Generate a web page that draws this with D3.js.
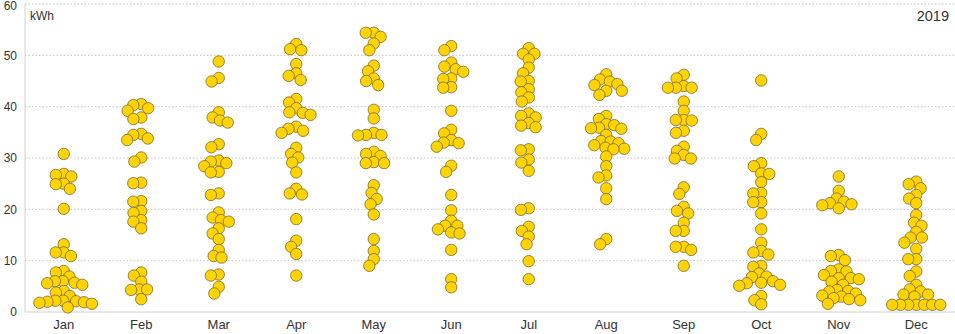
<!DOCTYPE html>
<html>
<head>
<meta charset="utf-8">
<script src="https://cdn.jsdelivr.net/npm/d3@7"></script>
<style>
  html, body { margin: 0; padding: 0; background: #fff; }
  svg { display: block; font-family: "Liberation Sans", Arial, sans-serif; }
</style>
</head>
<body>
<svg id="chart" width="955" height="334"></svg>
<script>
// Daily energy yield (kWh) for each month of 2019
const months = ["Jan","Feb","Mar","Apr","May","Jun","Jul","Aug","Sep","Oct","Nov","Dec"];
const yTicks = [0, 10, 20, 30, 40, 50, 60];
const unitLabel = "kWh";
const yearLabel = "2019";

const jan = [30.8, 26.7, 26.4, 26.9, 24.9, 24.0, 25.0, 20.1, 13.2, 11.6, 10.9, 11.6, 7.7, 8.0, 6.9, 6.0, 5.7, 5.3, 5.6, 6.0, 4.1, 3.8, 3.1, 2.2, 1.9, 1.6, 0.9, 1.8, 2.0, 2.1, 2.2];
const feb = [39.7, 39.2, 40.3, 40.5, 37.9, 37.6, 33.8, 33.5, 34.5, 34.7, 30.1, 29.3, 25.2, 25.1, 21.6, 21.5, 19.7, 19.3, 17.6, 17.9, 16.3, 7.1, 7.7, 5.9, 4.3, 4.4, 4.4, 2.5];
const mar = [48.8, 45.6, 44.9, 38.9, 37.3, 36.9, 37.9, 32.7, 32.1, 29.3, 29.0, 27.3, 27.2, 28.4, 29.5, 23.1, 22.8, 19.4, 17.6, 17.9, 18.4, 16.3, 15.3, 14.2, 12.1, 10.9, 10.6, 7.3, 7.1, 4.9, 3.6];
const apr = [51.2, 51.0, 52.2, 48.3, 46.0, 45.2, 46.5, 41.5, 40.8, 39.7, 38.9, 38.4, 38.8, 36.1, 35.3, 34.9, 35.7, 32.0, 30.8, 30.1, 29.1, 27.2, 23.1, 22.9, 24.0, 18.1, 13.9, 12.7, 11.3, 7.1];
const may = [54.4, 53.6, 54.4, 52.3, 51.0, 48.0, 46.9, 45.0, 44.2, 45.5, 39.4, 37.7, 34.9, 34.5, 34.4, 34.5, 30.8, 30.4, 31.2, 29.0, 29.0, 29.2, 24.7, 23.2, 22.0, 21.0, 19.0, 14.2, 11.9, 10.3, 9.0];
const jun = [51.8, 51.0, 48.6, 47.8, 46.8, 47.3, 45.5, 45.4, 43.8, 43.7, 39.2, 35.5, 34.8, 33.0, 32.2, 32.9, 33.5, 28.5, 27.3, 22.8, 19.8, 17.8, 16.8, 16.8, 16.1, 15.5, 15.3, 12.1, 6.4, 4.8];
const jul = [51.4, 50.3, 50.3, 49.2, 47.6, 46.5, 45.0, 44.9, 43.4, 42.8, 41.8, 41.0, 38.2, 37.9, 38.7, 36.3, 36.0, 36.8, 31.7, 31.5, 29.7, 29.1, 27.5, 20.2, 19.9, 15.8, 16.6, 14.7, 13.2, 9.9, 6.4];
const aug = [46.3, 44.4, 44.2, 44.9, 45.3, 43.1, 43.1, 42.3, 38.2, 37.6, 36.4, 35.8, 35.7, 35.9, 36.6, 34.5, 32.9, 33.3, 33.2, 32.0, 31.7, 31.8, 32.5, 30.3, 28.4, 26.6, 26.2, 24.1, 22.0, 14.2, 13.2];
const sep = [46.2, 45.5, 44.0, 43.7, 43.7, 43.7, 41.0, 39.2, 37.4, 37.3, 37.4, 35.3, 34.9, 32.2, 31.4, 30.6, 29.9, 29.9, 24.3, 23.0, 20.5, 19.7, 19.2, 17.4, 15.8, 15.8, 12.7, 12.7, 12.1, 9.0];
const oct = [45.1, 34.7, 33.5, 29.0, 28.4, 26.9, 27.0, 25.3, 23.2, 23.1, 21.4, 21.4, 19.2, 16.1, 13.5, 11.6, 11.2, 11.9, 9.0, 8.8, 7.5, 6.9, 6.8, 6.0, 5.3, 5.1, 5.6, 5.7, 3.1, 2.3, 1.5];
const nov = [26.4, 23.6, 22.1, 21.5, 20.8, 20.2, 21.0, 21.2, 10.9, 11.1, 10.1, 8.3, 8.0, 7.9, 6.6, 6.6, 7.2, 6.4, 5.3, 5.9, 4.3, 4.1, 3.6, 4.0, 2.7, 2.3, 1.6, 2.5, 3.0, 3.2];
const dec = [25.4, 24.9, 24.1, 22.8, 22.1, 21.2, 18.9, 17.4, 16.8, 15.6, 14.5, 14.5, 13.5, 12.3, 10.3, 10.3, 7.9, 7.0, 5.3, 4.4, 3.4, 3.0, 3.4, 4.0, 1.4, 1.4, 1.4, 1.4, 1.4, 1.4, 1.4];

const seriesByMonth = [jan, feb, mar, apr, may, jun, jul, aug, sep, oct, nov, dec];

const width = 955, height = 334;
const margin = { top: 4, right: 0, bottom: 22, left: 25 };
const dotR = 5.7;      // drawn radius
const packR = 4.0;     // packing radius (dots may overlap slightly)

const svg = d3.select("#chart");

const x = d3.scaleBand()
  .domain(months)
  .range([margin.left, width - margin.right])
  .padding(0);

const y = d3.scaleLinear()
  .domain([0, 60])
  .range([height - margin.bottom, margin.top]);

// dotted horizontal grid
svg.append("g")
  .selectAll("line")
  .data(yTicks.filter(t => t > 0))
  .join("line")
  .attr("x1", margin.left)
  .attr("x2", width - margin.right)
  .attr("y1", d => y(d))
  .attr("y2", d => y(d))
  .attr("stroke", "#c4c4c4")
  .attr("stroke-width", 1)
  .attr("stroke-dasharray", "1.5,2");

// axis frame lines
svg.append("line")
  .attr("x1", margin.left).attr("x2", margin.left)
  .attr("y1", y(60)).attr("y2", y(0))
  .attr("stroke", "#d2d2d2");
svg.append("line")
  .attr("x1", margin.left).attr("x2", width - margin.right)
  .attr("y1", y(0)).attr("y2", y(0))
  .attr("stroke", "#d2d2d2");

// y axis labels (the top one nudged down so it stays inside the frame)
const yAxis = d3.axisLeft(y).tickValues(yTicks).tickSize(0).tickPadding(8);
svg.append("g")
  .attr("transform", `translate(${margin.left},0)`)
  .call(yAxis)
  .call(g => g.select(".domain").remove())
  .call(g => g.selectAll("text")
    .attr("fill", "#333")
    .attr("y", d => d === 60 ? 1.5 : 0)
    .style("font-size", "12px")
    .style("font-family", "'Liberation Sans', Arial, sans-serif"));

// x axis labels
const xAxis = d3.axisBottom(x).tickSize(0).tickPadding(8);
svg.append("g")
  .attr("transform", `translate(0,${y(0)})`)
  .call(xAxis)
  .call(g => g.select(".domain").remove())
  .call(g => g.selectAll("text")
    .attr("fill", "#333")
    .style("font-size", "13px")
    .style("font-family", "'Liberation Sans', Arial, sans-serif"));

// unit and year captions
svg.append("text")
  .attr("x", margin.left + 5)
  .attr("y", 20)
  .attr("fill", "#333")
  .style("font-size", "12px")
  .text(unitLabel);

svg.append("text")
  .attr("x", width - 6)
  .attr("y", 20.5)
  .attr("text-anchor", "end")
  .attr("fill", "#333")
  .style("font-size", "14.5px")
  .text(yearLabel);

// Beeswarm: keep each dot at its value, shift sideways to the nearest free slot
function swarm(values, cx) {
  const nodes = values.map(v => ({ v, py: y(v), dx: 0 }))
    .sort((a, b) => a.py - b.py);
  const placed = [];
  const d2 = (2 * packR) * (2 * packR);
  for (const n of nodes) {
    const near = placed.filter(p => Math.abs(p.py - n.py) < 2 * packR);
    const cands = [0];
    for (const p of near) {
      const dy = p.py - n.py;
      const off = Math.sqrt(Math.max(0, d2 - dy * dy));
      cands.push(p.dx + off + 0.01, p.dx - off - 0.01);
    }
    cands.sort((a, b) => Math.abs(a) - Math.abs(b) || a - b);
    for (const c of cands) {
      const ok = near.every(p => {
        const dx = p.dx - c, dy = p.py - n.py;
        return dx * dx + dy * dy >= d2 - 0.01;
      });
      if (ok) { n.dx = c; break; }
    }
    placed.push(n);
  }
  return nodes.map(n => ({ v: n.v, cx: cx + n.dx, cy: n.py }));
}

const dots = [];
months.forEach((m, i) => {
  const cx = x(m) + x.bandwidth() / 2;
  swarm(seriesByMonth[i], cx).forEach(d => dots.push(d));
});

svg.append("g")
  .selectAll("circle")
  .data(dots)
  .join("circle")
  .attr("cx", d => d.cx)
  .attr("cy", d => d.cy)
  .attr("r", dotR)
  .attr("fill", "#ffd400")
  .attr("stroke", "#7a6a30")
  .attr("stroke-width", 0.8);
</script>
</body>
</html>
